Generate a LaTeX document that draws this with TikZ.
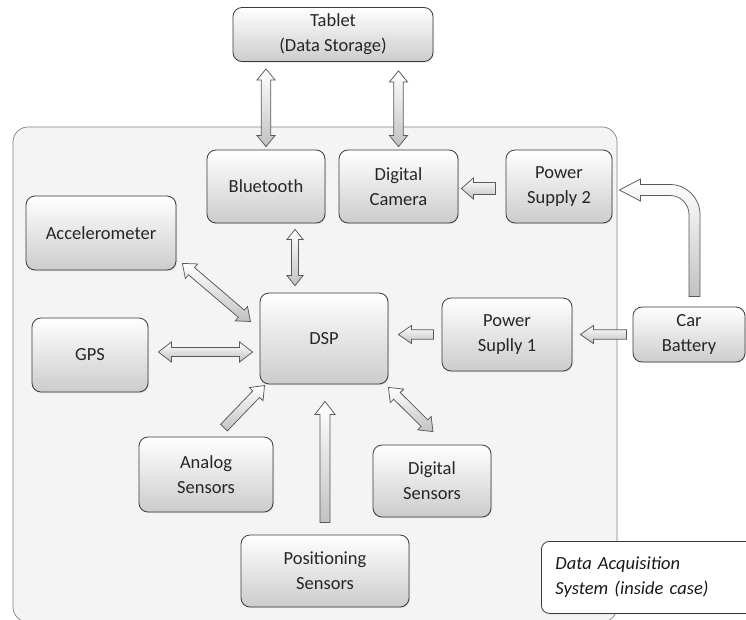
\documentclass[tikz,border=0pt]{standalone}
\usepackage{fontspec}
\setmainfont{Carlito}
\usepackage{tikz}
\usetikzlibrary{calc, shadows}
\definecolor{casegray}{HTML}{F4F4F4}
\definecolor{edgegray}{HTML}{3A3A3A}
\newcommand\boxfont{\fontsize{18.5}{25}\selectfont}

\tikzset{
  block/.style={draw=edgegray, line width=0.8pt, rounded corners=9pt, top color=white, bottom color=black!20,
    align=center, text=black!85, font=\boxfont, inner sep=0pt,
    drop shadow={opacity=0.2, shadow xshift=1pt, shadow yshift=-1pt}},
  arrowfill/.style={draw=black!65, line width=0.75pt, top color=white, bottom color=black!24},
  onaxis/.style={shift={(\p1)}, rotate=\n1},
  dblarrow/.style n args={3}{arrowfill, to path={
    let \p1=(\tikztostart), \p2=(\tikztotarget),
        \n1={atan2(\y2-\y1,\x2-\x1)}, \n2={veclen(\x2-\x1,\y2-\y1)} in
    ([onaxis]0pt,0pt) -- ([onaxis]#3,#2) -- ([onaxis]#3,#1) -- ([onaxis]{\n2-#3},#1)
    -- ([onaxis]{\n2-#3},#2) -- ([onaxis]\n2,0pt) -- ([onaxis]{\n2-#3},-#2)
    -- ([onaxis]{\n2-#3},-#1) -- ([onaxis]#3,-#1) -- ([onaxis]#3,-#2) -- cycle}},
  sglarrow/.style n args={3}{arrowfill, to path={
    let \p1=(\tikztostart), \p2=(\tikztotarget),
        \n1={atan2(\y2-\y1,\x2-\x1)}, \n2={veclen(\x2-\x1,\y2-\y1)} in
    ([onaxis]0pt,#1) -- ([onaxis]{\n2-#3},#1) -- ([onaxis]{\n2-#3},#2) -- ([onaxis]\n2,0pt)
    -- ([onaxis]{\n2-#3},-#2) -- ([onaxis]{\n2-#3},-#1) -- ([onaxis]0pt,-#1) -- cycle}},
}

\begin{document}
\begin{tikzpicture}[x=1pt, y=-1pt]
  \useasboundingbox (0,0) rectangle (746,619);

  % the case
  \draw[draw=black!50, line width=0.7pt, fill=casegray, rounded corners=15pt] (13,127) rectangle (617,622);

  % blocks
  \node[block, minimum width=200, minimum height=54] (tab) at (333,34.5) {Tablet\\(Data Storage)};
  \node[block, minimum width=118, minimum height=73] (bt) at (266,186.5) {Bluetooth};
  \node[block, minimum width=119, minimum height=73] (cam) at (398.5,186.5) {Digital\\Camera};
  \node[block, minimum width=106, minimum height=73] (ps2) at (559,186.5) {Power\\Supply 2};
  \node[block, minimum width=150, minimum height=74] (acc) at (101,233) {Accelerometer};
  \node[block, minimum width=116, minimum height=74] (gps) at (90,355) {GPS};
  \node[block, minimum width=128, minimum height=91] (dsp) at (324,338.5) {DSP};
  \node[block, minimum width=130, minimum height=73] (ps1) at (507,334.5) {Power\\Suplly 1};
  \node[block, minimum width=112, minimum height=55] (bat) at (689,334.5) {Car\\Battery};
  \node[block, minimum width=134, minimum height=75] (ana) at (206,474.5) {Analog\\Sensors};
  \node[block, minimum width=118, minimum height=72] (dig) at (432,481) {Digital\\Sensors};
  \node[block, minimum width=168, minimum height=72] (pos) at (325,571) {Positioning\\Sensors};

  % note
  \node[draw=edgegray, line width=0.8pt, fill=white, rounded corners=8pt, anchor=north west, align=left,
        text width=200pt, inner xsep=14pt, minimum height=72, font=\boxfont\itshape, text=black!90,
        drop shadow={opacity=0.2, shadow xshift=1pt, shadow yshift=-1pt}]
    (note) at (541,541) {Data Acquisition\\System (inside case)};

  % arrows
  \draw[dblarrow={4.7pt}{9pt}{11pt}] ([yshift=-7pt]bt.north |- tab.south) to ([yshift=3pt]bt.north);
  \draw[dblarrow={4.7pt}{9pt}{11pt}] ([yshift=-9pt]cam.north |- tab.south) to ([yshift=3pt]cam.north);
  \coordinate (btm) at ($(bt.south)!0.5!(dsp.north)$);
  \draw[dblarrow={3.5pt}{8pt}{10pt}] ([yshift=-6pt]btm |- bt.south) to ([yshift=7pt]btm |- dsp.north);
  \draw[sglarrow={6pt}{10.5pt}{12pt}] ([xshift=-10pt,yshift=-2pt]ps2.west) to ([xshift=3pt,yshift=-2pt]cam.east);
  \draw[sglarrow={4.7pt}{9pt}{13pt}] ([xshift=-6pt]bat.west) to ([xshift=8pt]ps1.east);
  \draw[sglarrow={4.7pt}{9pt}{13pt}] ([xshift=-8pt]ps1.west) to ([xshift=10pt]ps1.west -| dsp.east);
  \draw[dblarrow={4.7pt}{9.5pt}{12pt}] ([xshift=6pt,yshift=7pt]acc.south east) to ([xshift=-9pt,yshift=-29pt]dsp.north west);
  \draw[dblarrow={4.5pt}{10pt}{13pt}] ([xshift=10pt,yshift=3pt]gps.east) to ([xshift=-7pt,yshift=3pt]gps.east -| dsp.west);
  \draw[sglarrow={4.7pt}{9.5pt}{12pt}] ([xshift=18pt,yshift=9pt]ana.north) to ([xshift=5pt,yshift=-1pt]dsp.south west);
  \draw[sglarrow={5pt}{10pt}{13pt}] ([yshift=12pt]pos.north) to ([yshift=-17pt]pos.north |- dsp.south);
  \draw[dblarrow={4.7pt}{9.5pt}{12pt}] ([yshift=-3pt]dsp.south east) to ([xshift=1pt,yshift=13pt]dig.north);

  % battery to power supply 2
  \coordinate (cb) at ($(bat.north)+(5.5,-10)$);
  \coordinate (tip) at ($(ps2.east)+(7,3.5)$);
  \draw[arrowfill] ($(cb)+(5.5,0)$) -- ($(cb |- tip)+(5.5,24.5)$)
    arc[start angle=0, end angle=-90, radius=30]
    -- ($(tip)+(21,-5.5)$) -- ($(tip)+(21,-11)$) -- (tip) -- ($(tip)+(21,11)$) -- ($(tip)+(21,5.5)$)
    -- ($(cb |- tip)+(-24.5,5.5)$)
    arc[start angle=-90, end angle=0, radius=19]
    -- ($(cb)+(-5.5,0)$) -- cycle;
\end{tikzpicture}
\end{document}
